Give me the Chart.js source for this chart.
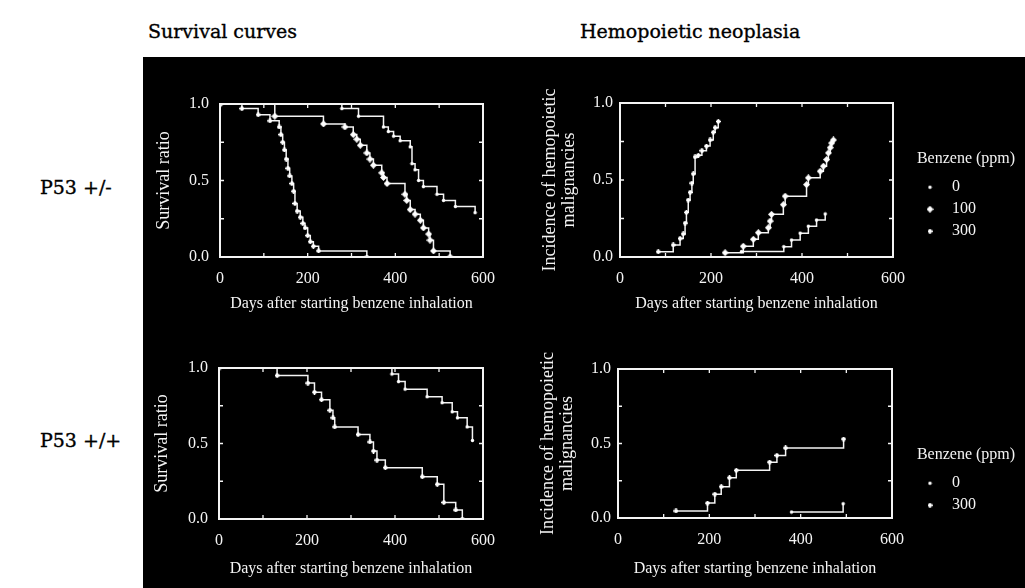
<!DOCTYPE html>
<html><head><meta charset="utf-8">
<script src="https://cdn.jsdelivr.net/npm/chart.js@4.4.1/dist/chart.umd.min.js"></script>
<style>
html,body{margin:0;padding:0;background:#fff;width:1025px;height:588px;overflow:hidden;}
#bg{position:absolute;left:143px;top:57px;width:882px;height:531px;background:#000;}
.hdr{position:absolute;font-family:"DejaVu Serif",serif;font-size:19px;color:#000;line-height:22px;white-space:nowrap;-webkit-text-stroke:0.35px #000;}
canvas{position:absolute;}
</style></head><body>
<div id="bg"></div>
<div class="hdr" style="left:148px;top:20px">Survival curves</div>
<div class="hdr" style="left:580px;top:20px">Hemopoietic neoplasia</div>
<div class="hdr" style="left:40px;top:176px">P53 +/-</div>
<div class="hdr" style="left:40px;top:429px">P53 +/+</div>
<canvas id="c1" width="365" height="275" style="left:145px;top:60px"></canvas>
<canvas id="c2" width="525" height="275" style="left:500px;top:60px"></canvas>
<canvas id="c3" width="365" height="260" style="left:145px;top:325px"></canvas>
<canvas id="c4" width="525" height="260" style="left:500px;top:325px"></canvas>
<script>
// ---------- data ----------
const DOSES_HET = ['0', '100', '300'];
const DOSES_WT = ['0', '300'];
const X_TICK_LABELS = ['0', '200', '400', '600'];
const Y_TICK_LABELS = ['0.0', '0.5', '1.0'];

// P53 +/- survival
const HET_SURV_0_DAYS = [0, 278, 316, 373, 384, 396, 411, 434, 438, 445, 453, 464, 495, 510, 537, 582];
const HET_SURV_0_VALS = [1.0, 0.97, 0.92, 0.85, 0.82, 0.79, 0.76, 0.72, 0.61, 0.57, 0.50, 0.46, 0.41, 0.37, 0.33, 0.29];
const HET_SURV_100_DAYS = [0, 125, 236, 285, 304, 312, 320, 335, 342, 350, 369, 373, 381, 422, 426, 434, 445, 457, 464, 476, 479, 487, 525];
const HET_SURV_100_VALS = [1.0, 0.92, 0.87, 0.85, 0.80, 0.77, 0.73, 0.68, 0.64, 0.60, 0.55, 0.52, 0.48, 0.41, 0.37, 0.31, 0.28, 0.24, 0.19, 0.15, 0.11, 0.04, 0.0];
const HET_SURV_300_DAYS = [0, 50, 87, 114, 135, 139, 143, 147, 151, 155, 159, 164, 168, 171, 176, 183, 189, 194, 200, 206, 213, 225, 335];
const HET_SURV_300_VALS = [1.0, 0.97, 0.93, 0.89, 0.85, 0.80, 0.75, 0.70, 0.64, 0.58, 0.53, 0.48, 0.43, 0.35, 0.30, 0.26, 0.22, 0.19, 0.14, 0.10, 0.07, 0.04, 0.0];

// P53 +/- hemopoietic malignancies
const HET_INC_0_DAYS = [267, 360, 377, 396, 414, 432, 451];
const HET_INC_0_VALS = [0.035, 0.067, 0.11, 0.155, 0.20, 0.24, 0.28];
const HET_INC_100_DAYS = [231, 271, 293, 304, 326, 330, 333, 359, 363, 410, 414, 440, 447, 454, 458, 462, 465, 469];
const HET_INC_100_VALS = [0.028, 0.07, 0.115, 0.158, 0.19, 0.233, 0.277, 0.34, 0.395, 0.47, 0.514, 0.557, 0.59, 0.633, 0.676, 0.71, 0.74, 0.76];
const HET_INC_300_DAYS = [84, 117, 132, 139, 143, 146, 150, 154, 158, 161, 165, 172, 180, 190, 198, 205, 209, 216];
const HET_INC_300_VALS = [0.034, 0.078, 0.12, 0.15, 0.22, 0.29, 0.37, 0.42, 0.48, 0.54, 0.65, 0.66, 0.69, 0.72, 0.76, 0.81, 0.84, 0.88];

// P53 +/+ survival
const WT_SURV_0_DAYS = [0, 393, 408, 423, 473, 507, 530, 542, 564, 576];
const WT_SURV_0_VALS = [1.0, 0.96, 0.91, 0.86, 0.81, 0.77, 0.71, 0.67, 0.61, 0.52];
const WT_SURV_300_DAYS = [0, 132, 202, 217, 233, 252, 259, 263, 316, 343, 351, 359, 378, 462, 496, 511, 538, 553];
const WT_SURV_300_VALS = [1.0, 0.95, 0.90, 0.84, 0.79, 0.72, 0.67, 0.61, 0.56, 0.51, 0.45, 0.39, 0.34, 0.28, 0.23, 0.11, 0.06, 0.0];

// P53 +/+ hemopoietic malignancies
const WT_INC_0_DAYS = [380, 493];
const WT_INC_0_VALS = [0.04, 0.096];
const WT_INC_300_DAYS = [127, 196, 212, 226, 244, 259, 332, 348, 367, 494];
const WT_INC_300_VALS = [0.047, 0.10, 0.16, 0.21, 0.27, 0.32, 0.375, 0.42, 0.47, 0.53];

// ---------- helpers ----------
const FONT = '"Liberation Serif", "Times New Roman", serif';
const WHITE = '#f4f4f4';
const LEGEND_W = 112;

function marker(kind) {
  const s = kind === 'diamond' ? 7 : 5;
  const c = document.createElement('canvas');
  c.width = s; c.height = s;
  const g = c.getContext('2d');
  g.fillStyle = '#fff'; g.strokeStyle = '#fff';
  if (kind === 'dot') { g.beginPath(); g.arc(s / 2, s / 2, 1.7, 0, Math.PI * 2); g.fill(); }
  else if (kind === 'diamond') { g.beginPath(); g.moveTo(3.5, 0); g.lineTo(7, 3.5); g.lineTo(3.5, 7); g.lineTo(0, 3.5); g.closePath(); g.fill(); }
  else { g.lineWidth = 1.2; g.beginPath(); g.moveTo(2.5, 0); g.lineTo(2.5, 5); g.moveTo(0, 2.5); g.lineTo(5, 2.5); g.moveTo(0.8, 0.8); g.lineTo(4.2, 4.2); g.moveTo(4.2, 0.8); g.lineTo(0.8, 4.2); g.stroke(); }
  return c;
}
const MARK = { '0': marker('dot'), '100': marker('diamond'), '300': marker('star') };

function pts(days, vals) { return days.map((d, i) => ({ x: d, y: vals[i] })); }
function ds(label, days, vals) {
  return { label, data: pts(days, vals), stepped: true, borderColor: WHITE, borderWidth: 1.5,
           pointStyle: MARK[label], backgroundColor: WHITE, pointBorderColor: WHITE, fill: false };
}

const framePlugin = {
  id: 'frame',
  afterDatasetsDraw(chart) {
    const { ctx, chartArea: a } = chart;
    const x = chart.scales.x, y = chart.scales.y;
    ctx.save();
    ctx.strokeStyle = WHITE;
    ctx.lineWidth = 2;
    ctx.strokeRect(a.left, a.top, a.right - a.left, a.bottom - a.top);
    ctx.lineWidth = 1.3;
    ctx.beginPath();
    x.ticks.forEach(t => { const p = x.getPixelForValue(t.value); ctx.moveTo(p, a.bottom); ctx.lineTo(p, a.bottom - 4); ctx.moveTo(p, a.top); ctx.lineTo(p, a.top + 4); });
    y.ticks.forEach(t => { const p = y.getPixelForValue(t.value); ctx.moveTo(a.left, p); ctx.lineTo(a.left + 4, p); ctx.moveTo(a.right, p); ctx.lineTo(a.right - 4, p); });
    ctx.stroke();
    ctx.restore();
  }
};
const legendWidthPlugin = {
  id: 'legendW',
  beforeLayout(chart) {
    const lg = chart.legend;
    if (lg && !lg._wPatched) {
      const fit = lg.fit.bind(lg);
      lg.fit = function () { fit(); if (this.options.display) this.width = LEGEND_W; };
      lg._wPatched = true;
    }
  }
};

function panel(id, c) {
  const scales = {
    x: {
      type: 'linear', min: 0, max: 600,
      afterFit(s) { s.height = c.xh; },
      grid: { display: false, drawTicks: false }, border: { display: false },
      ticks: { stepSize: 100, autoSkip: false, maxRotation: 0, color: WHITE, padding: 12,
               font: { family: FONT, size: 16 },
               callback: v => (v % 200 === 0 ? X_TICK_LABELS[v / 200] : '') },
      title: { display: true, text: 'Days after starting benzene inhalation', color: WHITE,
               font: { family: FONT, size: 16 }, padding: { top: 0, bottom: c.xtpb } }
    },
    y: {
      type: 'linear', min: 0, max: 1,
      afterFit(s) { s.width = c.yw; },
      grid: { display: false, drawTicks: false }, border: { display: false },
      ticks: { stepSize: 0.25, color: WHITE, padding: c.ytp, font: { family: FONT, size: 16 },
               callback: v => (Math.abs(v * 2 - Math.round(v * 2)) < 1e-9 ? Y_TICK_LABELS[Math.round(v * 2)] : '') },
      title: { display: true, text: c.ytitle, color: WHITE,
               font: { family: FONT, size: 18, lineHeight: 1.1 }, padding: { top: c.ytpt, bottom: 0 } }
    }
  };
  let legend = { display: false };
  if (c.legend) {
    scales.gap = { type: 'linear', position: 'right', display: true,
                   grid: { display: false, drawTicks: false }, border: { display: false },
                   ticks: { display: false }, afterFit(s) { s.width = c.gapW; } };
    legend = { display: true, position: 'right', align: 'start', fullSize: true,
               title: { display: true, text: 'Benzene (ppm)', color: WHITE, font: { family: FONT, size: 16 },
                        padding: { top: c.legTop, bottom: 3 } },
               labels: { color: WHITE, font: { family: FONT, size: 16 }, usePointStyle: true,
                         pointStyleWidth: 28, padding: 6 } };
  }
  return new Chart(document.getElementById(id), {
    type: 'line',
    data: { datasets: c.datasets },
    options: {
      responsive: false, animation: false, events: [],
      layout: { padding: c.padding },
      plugins: { legend, tooltip: { enabled: false } },
      scales
    },
    plugins: c.legend ? [framePlugin, legendWidthPlugin] : [framePlugin]
  });
}

panel('c1', {
  datasets: [ds(DOSES_HET[0], HET_SURV_0_DAYS, HET_SURV_0_VALS),
             ds(DOSES_HET[1], HET_SURV_100_DAYS, HET_SURV_100_VALS),
             ds(DOSES_HET[2], HET_SURV_300_DAYS, HET_SURV_300_VALS)],
  padding: { top: 44, right: 27, bottom: 0, left: 0 },
  xh: 78, xtpb: 22, yw: 75, ytp: 11, ytpt: 9, ytitle: 'Survival ratio'
});
panel('c2', {
  datasets: [ds(DOSES_HET[0], HET_INC_0_DAYS, HET_INC_0_VALS),
             ds(DOSES_HET[1], HET_INC_100_DAYS, HET_INC_100_VALS),
             ds(DOSES_HET[2], HET_INC_300_DAYS, HET_INC_300_VALS)],
  padding: { top: 43, right: 3, bottom: 0, left: 0 },
  xh: 78, xtpb: 22, yw: 120, ytp: 7, ytpt: 40,
  ytitle: ['Incidence of hemopoietic', 'malignancies'],
  legend: true, gapW: 17, legTop: 48
});
panel('c3', {
  datasets: [ds(DOSES_WT[0], WT_SURV_0_DAYS, WT_SURV_0_VALS),
             ds(DOSES_WT[1], WT_SURV_300_DAYS, WT_SURV_300_VALS)],
  padding: { top: 43, right: 27, bottom: 0, left: 0 },
  xh: 66, xtpb: 7, yw: 74, ytp: 11, ytpt: 7, ytitle: 'Survival ratio'
});
panel('c4', {
  datasets: [ds(DOSES_WT[0], WT_INC_0_DAYS, WT_INC_0_VALS),
             ds(DOSES_WT[1], WT_INC_300_DAYS, WT_INC_300_VALS)],
  padding: { top: 44, right: 3, bottom: 0, left: 0 },
  xh: 67, xtpb: 7, yw: 118, ytp: 7, ytpt: 38,
  ytitle: ['Incidence of hemopoietic', 'malignancies'],
  legend: true, gapW: 18, legTop: 78
});
</script>
</body></html>
